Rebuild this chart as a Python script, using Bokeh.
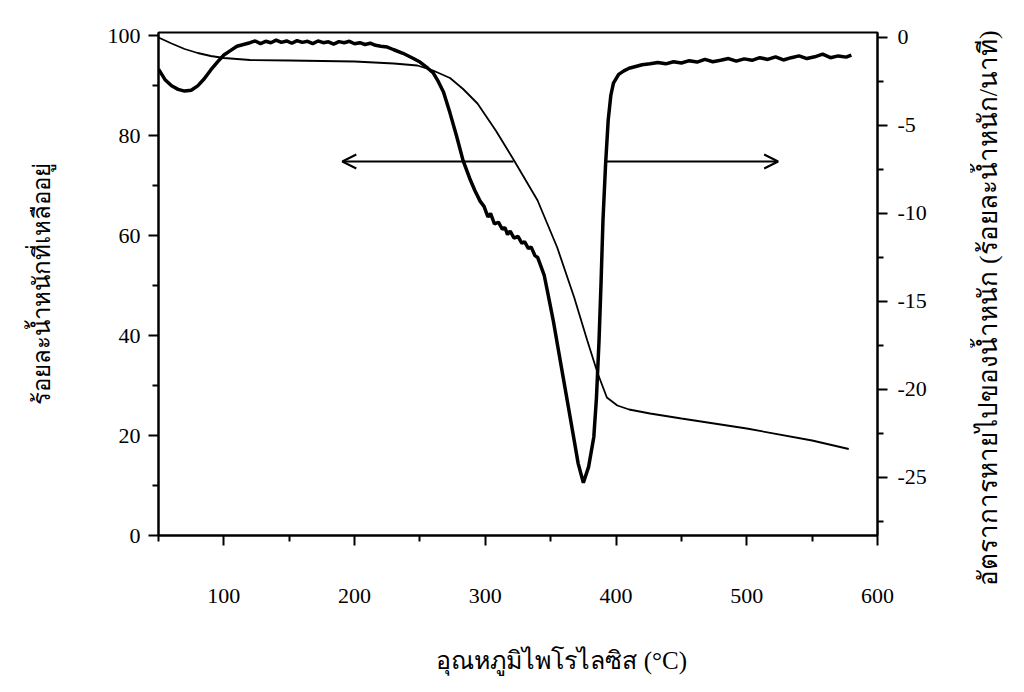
from bokeh.plotting import figure
from bokeh.layouts import row
from bokeh.models import Range1d, LinearAxis, FixedTicker, Arrow, OpenHead, Title
from bokeh.embed import file_html
from bokeh.resources import INLINE

# ---- data -------------------------------------------------------------
# TG curve: remaining weight (%) vs pyrolysis temperature (C), left axis
temp_tg = [50, 60, 70, 80, 90, 100, 120, 150, 200, 230, 248, 260, 273, 283, 294,
           308, 322, 340, 355, 368, 378, 386, 393, 401, 410, 426, 450, 500, 550, 578]
weight_tg = [99.6, 98.4, 97.3, 96.5, 95.9, 95.5, 95.1, 95.0, 94.8, 94.4, 94.0, 93.0,
             91.5, 89.3, 86.4, 81.0, 75.0, 67.0, 57.6, 47.6, 39.0, 32.4, 27.6, 26.0,
             25.2, 24.4, 23.4, 21.4, 19.0, 17.3]

# DTG curve: weight-loss rate (%/min), right axis
temp_dtg = [50, 55, 60, 65, 70, 75, 80, 85, 90, 95, 100, 105, 110, 115, 120,
            124, 128, 132, 136, 140, 144, 148, 152, 156, 160, 164, 168, 172, 176,
            180, 184, 188, 192, 196, 200, 204, 208, 212, 216, 220, 225, 230, 237,
            245, 250, 256, 260, 264, 268, 273, 278, 283, 288, 292, 296, 299, 302,
            304, 307, 310, 313, 315, 317, 319, 322, 325, 328, 330, 333, 335, 338,
            340, 342, 345, 348, 352, 356, 360, 364, 368, 371, 375, 379, 383, 385,
            387, 388.5, 390, 392, 394, 396, 398, 402, 406, 410, 415, 420, 426, 432,
            438, 444, 450, 456, 462, 468, 474, 480, 486, 492, 498, 504, 510, 516,
            522, 528, 534, 540, 546, 552, 558, 564, 570, 576, 580]
rate_dtg = [-1.8, -2.4, -2.75, -2.95, -3.05, -3.0, -2.75, -2.35, -1.85, -1.4, -1.0,
            -0.75, -0.5, -0.4, -0.3,
            -0.2, -0.35, -0.22, -0.3, -0.15, -0.28, -0.2, -0.33, -0.18, -0.28, -0.22,
            -0.35, -0.2, -0.3, -0.25, -0.38, -0.24, -0.3, -0.22, -0.36, -0.3, -0.4,
            -0.33, -0.45, -0.5, -0.55, -0.7, -0.9,
            -1.2, -1.4, -1.75, -2.0, -2.5, -3.1, -4.3, -5.6, -7.0, -8.0, -8.7, -9.3,
            -9.6, -10.2, -10.0, -10.6, -10.5, -10.9, -10.8, -11.2, -11.0, -11.4,
            -11.3, -11.7, -11.6, -12.0, -11.9, -12.4, -12.5, -12.9, -13.5, -14.6,
            -16.1, -17.8, -19.5, -21.2, -22.9, -24.2, -25.3, -24.4, -22.7, -20.5,
            -17.2, -14.0, -10.4, -7.2, -4.7, -3.3, -2.6, -2.1, -1.9, -1.75, -1.65,
            -1.55, -1.5, -1.42, -1.5, -1.38, -1.45, -1.32, -1.4, -1.25, -1.38, -1.3,
            -1.2, -1.35, -1.22, -1.3, -1.15, -1.25, -1.1, -1.28, -1.15, -1.05, -1.2,
            -1.1, -0.95, -1.15, -1.05, -1.12, -1.0]

x_ticks = [100, 200, 300, 400, 500, 600]
x_minor = [50, 150, 250, 350, 450, 550]
left_ticks = [0, 20, 40, 60, 80, 100]
left_minor = [10, 30, 50, 70, 90]
right_ticks = [0, -5, -10, -15, -20, -25]
right_minor = [-2.5, -7.5, -12.5, -17.5, -22.5, -27.5]
right_labels = {t: str(t) for t in right_ticks}

x_title = "อุณหภูมิไพโรไลซิส (°C)"
left_title = "ร้อยละน้ำหนักที่เหลืออยู่"
right_title = "อัตราการหายไปของน้ำหนัก (ร้อยละน้ำหนัก/นาที)"

# arrow annotation positions (temperature, % weight)
arrow_y = 74.8
left_arrow = (321.6, 190.6)
right_arrow = (392.0, 524.0)

# ---- figure -----------------------------------------------------------
SERIF = "Liberation Serif"
NBSP = "\u00a0"

p = figure(width=970, height=680, output_backend="svg", toolbar_location=None,
           x_range=Range1d(50, 600), y_range=Range1d(0, 100.6),
           min_border_left=158, min_border_right=93, min_border_top=32,
           min_border_bottom=145)
p.extra_y_ranges = {"dtg": Range1d(-28.3, 0.28)}

p.xgrid.visible = False
p.ygrid.visible = False
p.outline_line_color = "black"
p.outline_line_width = 2
p.background_fill_color = "white"
p.border_fill_color = "white"


def style_axis(ax):
    ax.axis_line_width = 2
    ax.axis_line_color = "black"
    ax.major_tick_line_width = 2
    ax.minor_tick_line_width = 2
    ax.major_tick_line_color = "black"
    ax.minor_tick_line_color = "black"
    ax.major_tick_in = 0
    ax.major_tick_out = 10
    ax.minor_tick_in = 0
    ax.minor_tick_out = 6
    ax.major_label_text_font = SERIF
    ax.major_label_text_font_size = "22px"
    ax.major_label_text_color = "black"
    ax.axis_label_text_font = SERIF
    ax.axis_label_text_font_size = "24px"
    ax.axis_label_text_font_style = "normal"
    ax.axis_label_text_color = "black"


xa = p.xaxis[0]
xa.ticker = FixedTicker(ticks=x_ticks, minor_ticks=x_minor)
style_axis(xa)
xa.major_label_standoff = 43
# leading no-break spaces shift the centred title to the right, as in the original
xa.axis_label = NBSP * 14 + x_title
xa.axis_label_text_font_size = "25px"
xa.axis_label_standoff = 41

ya = p.yaxis[0]
ya.ticker = FixedTicker(ticks=left_ticks, minor_ticks=left_minor)
style_axis(ya)
ya.major_label_standoff = 8
ya.axis_label = left_title
ya.axis_label_standoff = 50

ra = LinearAxis(y_range_name="dtg",
                ticker=FixedTicker(ticks=right_ticks, minor_ticks=right_minor),
                major_label_overrides=right_labels)
style_axis(ra)
ra.major_label_standoff = 10
p.add_layout(ra, "right")

# curves
p.line(temp_tg, weight_tg, line_color="black", line_width=1.8)
p.line(temp_dtg, rate_dtg, line_color="black", line_width=3.5,
       y_range_name="dtg")

# arrows
p.add_layout(Arrow(end=OpenHead(size=14, line_width=2, line_color="black"),
                   x_start=left_arrow[0], y_start=arrow_y,
                   x_end=left_arrow[1], y_end=arrow_y,
                   line_width=2, line_color="black"))
p.add_layout(Arrow(end=OpenHead(size=14, line_width=2, line_color="black"),
                   x_start=right_arrow[0], y_start=arrow_y,
                   x_end=right_arrow[1], y_end=arrow_y,
                   line_width=2, line_color="black"))

# ---- right-hand title (reads bottom-to-top) in a narrow companion panel ----
side = figure(width=50, height=680, output_backend="svg", toolbar_location=None,
              x_axis_location=None, y_axis_location=None,
              min_border_left=0, min_border_right=0, min_border_top=32,
              min_border_bottom=145)
side.outline_line_color = None
side.grid.visible = False
side.background_fill_color = "white"
side.border_fill_color = "white"
side.add_layout(Title(text=right_title, align="left", offset=-50,
                      vertical_align="middle", standoff=4, text_font=SERIF,
                      text_font_size="26px", text_font_style="normal",
                      text_color="black"), "left")

layout = row(p, side)
open("out.html", "w").write(file_html(layout, INLINE))
